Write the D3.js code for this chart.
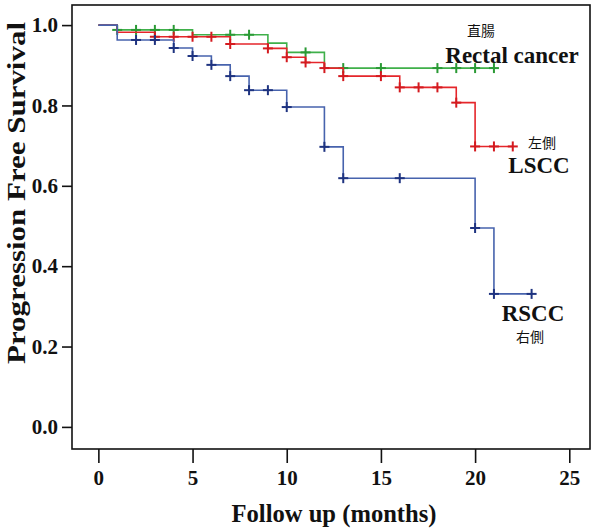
<!DOCTYPE html>
<html><head><meta charset="utf-8">
<script src="https://cdn.jsdelivr.net/npm/d3@7"></script>
<style>body{margin:0;background:#fff}</style>
</head><body>
<script>
// ---- data ----
const xTicks = [0, 5, 10, 15, 20, 25];
const yTicks = [0.0, 0.2, 0.4, 0.6, 0.8, 1.0];

const rectalTimes  = [0, 1, 5, 9, 10, 12];
const rectalSurv   = [1, 0.988, 0.976, 0.955, 0.932, 0.893];
const rectalEnd    = 21;
const rectalCensor = [1, 2, 3, 4, 7, 8, 11, 13, 15, 18, 19, 20, 21];

const lsccTimes  = [0, 1, 3, 7, 9, 10, 11, 12, 13, 16, 19, 20];
const lsccSurv   = [1, 0.982, 0.971, 0.953, 0.942, 0.92, 0.907, 0.893, 0.873, 0.845, 0.807, 0.698];
const lsccEnd    = 22;
const lsccCensor = [3, 4, 5, 6, 7, 9, 10, 11, 12, 13, 15, 16, 17, 18, 19, 20, 21, 22];

const rsccTimes  = [0, 1, 4, 5, 6, 7, 8, 10, 12, 13, 20, 21];
const rsccSurv   = [1, 0.963, 0.943, 0.923, 0.901, 0.873, 0.838, 0.796, 0.697, 0.619, 0.495, 0.331];
const rsccEnd    = 23;
const rsccCensor = [2, 3, 4, 5, 6, 7, 8, 9, 10, 12, 13, 16, 20, 21, 23];

const W = 600, H = 529;
const svg = d3.select("body").append("svg").attr("width", W).attr("height", H);

const x = d3.scaleLinear().domain([-1.4, 26.1]).range([72, 590]);
const y = d3.scaleLinear().domain([-0.055, 1.05]).range([449, 5]);

const serif = "'Liberation Serif','Times New Roman',serif";
const cjk = "'Noto Sans CJK TC','Noto Sans CJK JP',sans-serif";

// frame
svg.append("rect").attr("x", x.range()[0]).attr("y", y.range()[1])
  .attr("width", x.range()[1] - x.range()[0]).attr("height", y.range()[0] - y.range()[1])
  .attr("fill", "none").attr("stroke", "#111").attr("stroke-width", 1.6);

// axes
const xAxis = svg.append("g").attr("transform", `translate(0,${y.range()[0]})`)
  .call(d3.axisBottom(x).tickValues(xTicks).tickFormat(d3.format("d")).tickSize(14).tickPadding(7));
const yAxis = svg.append("g").attr("transform", `translate(${x.range()[0]},0)`)
  .call(d3.axisLeft(y).tickValues(yTicks).tickFormat(d3.format(".1f")).tickSize(10).tickPadding(4));
[xAxis, yAxis].forEach(g => {
  g.select(".domain").remove();
  g.selectAll(".tick line").attr("stroke", "#111").attr("stroke-width", 1.6);
  g.selectAll(".tick text").attr("fill", "#111").style("font-family", serif)
    .style("font-weight", "bold").style("font-size", "21px");
});

// curves
function stepPath(times, surv, end) {
  const pts = [];
  times.forEach((t, i) => {
    if (i > 0) pts.push([t, surv[i - 1]]);
    pts.push([t, surv[i]]);
  });
  pts.push([end, surv[surv.length - 1]]);
  return d3.line().x(d => x(d[0])).y(d => y(d[1]))(pts);
}
function survAt(times, surv, t) {
  let v = surv[0];
  times.forEach((tt, i) => { if (tt <= t) v = surv[i]; });
  return v;
}
const series = [
  {times: rectalTimes, surv: rectalSurv, end: rectalEnd, censor: rectalCensor, line: "#3fb04a", mark: "#2a9a35"},
  {times: lsccTimes, surv: lsccSurv, end: lsccEnd, censor: lsccCensor, line: "#e5262b", mark: "#d41a1f"},
  {times: rsccTimes, surv: rsccSurv, end: rsccEnd, censor: rsccCensor, line: "#4763ad", mark: "#1e3380"}
];
series.forEach(s => {
  svg.append("path").attr("d", stepPath(s.times, s.surv, s.end))
    .attr("fill", "none").attr("stroke", s.line).attr("stroke-width", 1.6);
  const g = svg.append("g").attr("stroke", s.mark).attr("stroke-width", 2);
  s.censor.forEach(t => {
    const cx = x(t), cy = y(survAt(s.times, s.surv, t));
    g.append("line").attr("x1", cx - 5).attr("x2", cx + 5).attr("y1", cy).attr("y2", cy);
    g.append("line").attr("x1", cx).attr("x2", cx).attr("y1", cy - 5).attr("y2", cy + 5);
  });
});

// titles
svg.append("text").attr("x", 334).attr("y", 522).attr("text-anchor", "middle")
  .attr("textLength", 205).attr("lengthAdjust", "spacingAndGlyphs")
  .style("font-family", serif).style("font-weight", "bold").style("font-size", "25px").attr("fill", "#111")
  .text("Follow up (months)");
svg.append("text").attr("transform", "translate(25,193) rotate(-90)").attr("text-anchor", "middle")
  .attr("textLength", 342).attr("lengthAdjust", "spacingAndGlyphs")
  .style("font-family", serif).style("font-weight", "bold").style("font-size", "25px").attr("fill", "#111")
  .text("Progression Free Survival");

// labels
const labels = [
  {t: "直腸", x: 481, y: 36, f: cjk, s: 14, w: "normal"},
  {t: "Rectal cancer", x: 512, y: 63, f: serif, s: 23, w: "bold"},
  {t: "左側", x: 542, y: 148, f: cjk, s: 14, w: "normal"},
  {t: "LSCC", x: 539, y: 173, f: serif, s: 23, w: "bold"},
  {t: "RSCC", x: 533, y: 321, f: serif, s: 23, w: "bold"},
  {t: "右側", x: 530, y: 342, f: cjk, s: 14, w: "normal"}
];
labels.forEach(l => {
  svg.append("text").attr("x", l.x).attr("y", l.y).attr("text-anchor", "middle")
    .style("font-family", l.f).style("font-size", l.s + "px").style("font-weight", l.w)
    .attr("fill", "#111").text(l.t);
});
</script>
</body></html>
